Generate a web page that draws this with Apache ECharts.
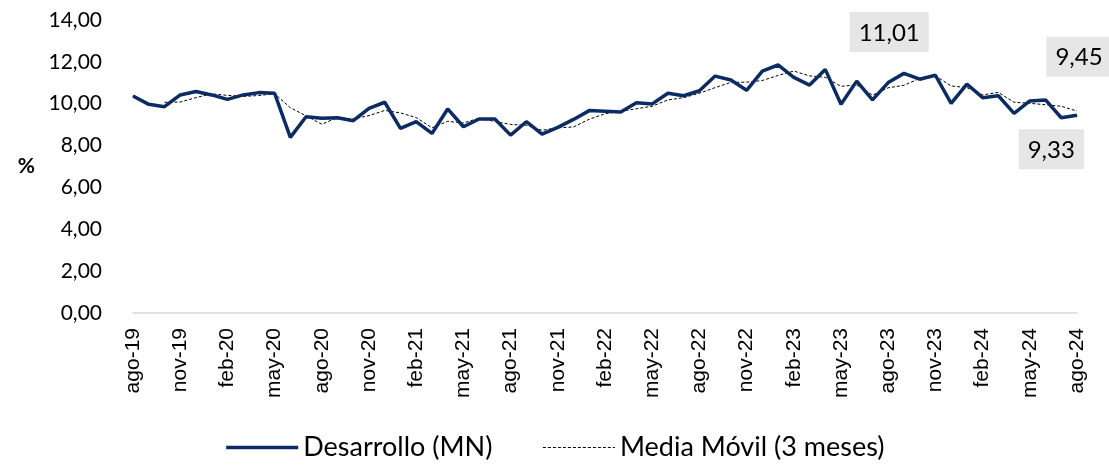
<!DOCTYPE html>
<html>
<head>
<meta charset="utf-8">
<script src="https://cdn.jsdelivr.net/npm/echarts@6/dist/echarts.min.js"></script>
<style>
  html, body { margin: 0; padding: 0; background: #fff; }
  #chart { width: 1109px; height: 467px; }
</style>
</head>
<body>
<div id="chart"></div>
<script>
const months = ['ene', 'feb', 'mar', 'abr', 'may', 'jun', 'jul', 'ago', 'sep', 'oct', 'nov', 'dic'];

// ago-19 .. ago-24
const categories = [];
for (let k = 0; k < 61; k++) {
  const m = (7 + k) % 12;
  const y = 19 + Math.floor((7 + k) / 12);
  categories.push(months[m] + '-' + y);
}

const desarrollo = [
  10.37, 9.97, 9.86, 10.42, 10.58, 10.42, 10.21, 10.42, 10.53, 10.50,
  8.39, 9.38, 9.30, 9.33, 9.19, 9.78, 10.07, 8.82, 9.14, 8.58,
  9.75, 8.90, 9.27, 9.27, 8.50, 9.14, 8.55, 8.87, 9.25, 9.67,
  9.64, 9.60, 10.05, 9.99, 10.50, 10.38, 10.62, 11.32, 11.13, 10.64,
  11.56, 11.85, 11.26, 10.89, 11.64, 9.97, 11.08, 10.18, 11.01, 11.45,
  11.17, 11.36, 10.02, 10.94, 10.29, 10.38, 9.54, 10.13, 10.18, 9.33,
  9.45
];

const mediaMovil = [
  null, null, 10.07, 10.08, 10.29, 10.47, 10.40, 10.35, 10.39, 10.48,
  9.81, 9.42, 9.02, 9.34, 9.27, 9.43, 9.68, 9.56, 9.34, 8.85,
  9.16, 9.08, 9.31, 9.15, 9.01, 8.97, 8.73, 8.85, 8.89, 9.26,
  9.52, 9.64, 9.76, 9.88, 10.18, 10.29, 10.50, 10.77, 11.02, 11.03,
  11.11, 11.35, 11.56, 11.33, 11.26, 10.83, 10.90, 10.41, 10.76, 10.88,
  11.21, 11.33, 10.85, 10.77, 10.42, 10.54, 10.07, 10.02, 9.95, 9.88,
  9.65
];

const fmt = v => v.toFixed(2).replace('.', ',');

// which points carry a value box, and where the box sits
const labelBoxes = {
  48: { position: 'top', distance: 30, offset: [1, 0] },
  59: { position: 'bottom', distance: 11, offset: [-10, 0] },
  60: { position: 'top', distance: 38, offset: [2, 0] }
};

const desarrolloData = desarrollo.map((v, i) => {
  const lb = labelBoxes[i];
  if (!lb) return v;
  return {
    value: v,
    label: {
      show: true,
      position: lb.position,
      distance: lb.distance,
      offset: lb.offset,
      formatter: p => fmt(p.value),
      backgroundColor: '#e6e6e6',
      padding: [9, 9, 7, 9],
      color: '#000',
      fontSize: 24,
      fontFamily: 'Lato'
    }
  };
});

const chart = echarts.init(document.getElementById('chart'));

chart.setOption({
  animation: false,
  grid: { left: 133, right: 32, top: 20, bottom: 154 },
  legend: {
    bottom: 1,
    left: 'center',
    itemWidth: 72,
    itemHeight: 12,
    itemGap: 50,
    itemStyle: { opacity: 0 },
    textStyle: { fontSize: 27, fontFamily: 'Lato', color: '#000' },
    data: [
      { name: 'Desarrollo (MN)', lineStyle: { width: 3.5 } },
      { name: 'Media Móvil (3 meses)', lineStyle: { width: 1 } }
    ]
  },
  xAxis: {
    type: 'category',
    data: categories,
    boundaryGap: false,
    axisLine: { lineStyle: { color: '#d9d9d9', width: 1.5 } },
    axisTick: { show: false },
    axisLabel: {
      interval: 2,
      rotate: 90,
      margin: 15,
      fontSize: 21,
      fontFamily: 'Liberation Sans',
      color: '#000'
    }
  },
  yAxis: {
    type: 'value',
    min: 0,
    max: 14,
    interval: 2,
    name: '%',
    nameLocation: 'middle',
    nameRotate: 0,
    nameGap: 98,
    nameTextStyle: { fontSize: 21, fontWeight: 'bold', fontFamily: 'Lato', color: '#000' },
    axisLine: { show: false },
    axisTick: { show: false },
    splitLine: { show: false },
    axisLabel: {
      formatter: fmt,
      margin: 31,
      fontSize: 21,
      fontFamily: 'Lato',
      color: '#000'
    }
  },
  series: [
    {
      name: 'Desarrollo (MN)',
      type: 'line',
      data: desarrolloData,
      symbol: 'circle',
      symbolSize: 1,
      showSymbol: true,
      lineStyle: { color: '#0d2b63', width: 3.5 },
      itemStyle: { color: '#0d2b63' },
      z: 3
    },
    {
      name: 'Media Móvil (3 meses)',
      type: 'line',
      data: mediaMovil,
      symbol: 'none',
      lineStyle: { color: '#000', width: 1, type: [3, 2] },
      itemStyle: { color: '#000' },
      z: 2
    }
  ]
});
</script>
</body>
</html>
